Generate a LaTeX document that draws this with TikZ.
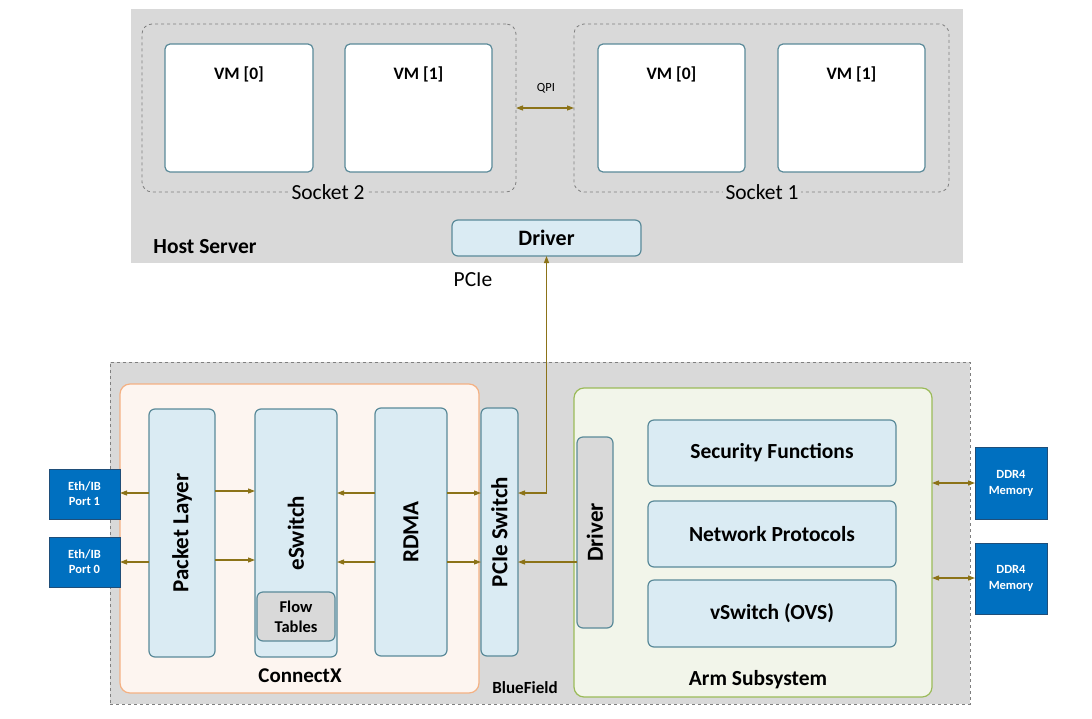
\documentclass[tikz,border=0pt]{standalone}
\usepackage{fontspec}
\setmainfont{Carlito}
\usetikzlibrary{arrows.meta}
\definecolor{hostgray}{HTML}{D9D9D9}
\definecolor{dashgray}{HTML}{7F7F7F}
\definecolor{arrowc}{HTML}{8C7318}
\definecolor{lblue}{HTML}{DAEBF3}
\definecolor{tealb}{HTML}{5A8A99}
\definecolor{cxfill}{HTML}{FDF5F0}
\definecolor{cxborder}{HTML}{F4B183}
\definecolor{armfill}{HTML}{F2F5EA}
\definecolor{armborder}{HTML}{9BBB59}
\definecolor{portblue}{HTML}{0070C0}
\definecolor{portborder}{HTML}{1F4E79}
\tikzset{
  box/.style={rectangle, inner sep=0pt, outer sep=0pt},
  vmbox/.style={box, fill=white, draw=tealb, line width=1.2pt, rounded corners=5pt, minimum width=148pt, minimum height=128pt},
  socketbox/.style={box, draw=dashgray, dashed, line width=0.8pt, rounded corners=10pt},
  bluebox/.style={box, fill=lblue, draw=tealb, line width=1.2pt, rounded corners=6pt},
  graybox/.style={box, fill=hostgray, draw=tealb, line width=1.2pt, rounded corners=6pt},
  portbox/.style={box, fill=portblue, draw=portborder, line width=1pt, text=white, font=\bfseries, align=center},
  arr/.style={draw=arrowc, line width=1.1pt, -{Triangle[length=7pt,width=5pt]}},
  darr/.style={draw=arrowc, line width=1.1pt, {Triangle[length=7pt,width=5pt]}-{Triangle[length=7pt,width=5pt]}},
  vlabel/.style={rotate=90, anchor=center},
  vmfont/.style={font=\fontsize{17.5}{21}\selectfont\bfseries},
  bigfont/.style={font=\fontsize{21.5}{25}\selectfont},
  bigbold/.style={font=\fontsize{21.5}{25}\selectfont\bfseries},
  inner/.style={font=\fontsize{23}{27}\selectfont\bfseries},
}
\begin{document}
\begin{tikzpicture}[x=1pt, y=-1pt]
\useasboundingbox (0,0) rectangle (1092,718);
% Host server
\node[box, fill=hostgray, minimum width=832pt, minimum height=254pt] (host) at (547,136) {};
\node[socketbox, minimum width=374pt, minimum height=168pt] (sock2) at (329,108) {};
\node[socketbox, minimum width=375pt, minimum height=168pt] (sock1) at (761.5,108) {};
\node[vmbox, label={[anchor=center, yshift=-30pt, vmfont]north:VM [0]}] (vm0l) at (239,108) {};
\node[vmbox, minimum width=147pt, label={[anchor=center, yshift=-30pt, vmfont]north:VM [1]}] (vm1l) at (418.5,108) {};
\node[vmbox, minimum width=147pt, label={[anchor=center, yshift=-30pt, vmfont]north:VM [0]}] (vm0r) at (671.5,108) {};
\node[vmbox, minimum width=147pt, label={[anchor=center, yshift=-30pt, vmfont]north:VM [1]}] (vm1r) at (851.5,108) {};
\node[fill=hostgray, inner sep=3pt, bigfont] (s2lab) at (328,192) {Socket 2};
\node[fill=hostgray, inner sep=3pt, bigfont] (s1lab) at (762,192) {Socket 1};
\node[font=\fontsize{12.5}{15}\selectfont] (qpi) at (546,88) {QPI};
\draw[darr] (sock2.east |- 0,108) -- (sock1.west |- 0,108);
\node[bigbold] (hostlab) at (205,247) {Host Server};
\node[bluebox, minimum width=189pt, minimum height=36pt, font=\fontsize{22}{26}\selectfont\bfseries] (drvtop) at (546.5,238) {Driver};
\node[bigfont] (pcielab) at (473,280) {PCIe};
% BlueField
\node[box, fill=hostgray, draw=dashgray, dashed, line width=0.8pt, minimum width=860pt, minimum height=342pt] (bf) at (540,533) {};
\node[box, fill=cxfill, draw=cxborder, line width=1.2pt, rounded corners=10pt, minimum width=359pt, minimum height=309pt] (cx) at (299.5,538.5) {};
\node[box, fill=armfill, draw=armborder, line width=1.2pt, rounded corners=10pt, minimum width=358pt, minimum height=309pt] (arm) at (753,542.5) {};
\node[bluebox, minimum width=66pt, minimum height=248pt, label={[vlabel, inner]center:Packet Layer}] (pl) at (182,533) {};
\node[bluebox, minimum width=82pt, minimum height=248pt, label={[vlabel, inner]center:eSwitch}] (esw) at (296,533) {};
\node[graybox, minimum width=78pt, minimum height=49pt, align=center, font=\fontsize{16.5}{20}\selectfont\bfseries] (ft) at (296,616.5) {Flow\\Tables};
\node[bluebox, minimum width=72pt, minimum height=248pt, label={[vlabel, inner]center:RDMA}] (rdma) at (411,532) {};
\node[bluebox, minimum width=37pt, minimum height=248pt, label={[vlabel, inner]center:PCIe Switch}] (psw) at (499.5,532) {};
\node[graybox, minimum width=36pt, minimum height=191pt, label={[vlabel, inner]center:Driver}] (drvarm) at (595,532.5) {};
\node[bluebox, minimum width=248pt, minimum height=66pt, font=\fontsize{21.5}{25}\selectfont\bfseries] (sec) at (772,453) {Security Functions};
\node[bluebox, minimum width=248pt, minimum height=66pt, font=\fontsize{21.5}{25}\selectfont\bfseries] (net) at (772,534) {Network Protocols};
\node[bluebox, minimum width=248pt, minimum height=67pt, font=\fontsize{21.5}{25}\selectfont\bfseries] (vsw) at (772,613.5) {vSwitch (OVS)};
\node[font=\fontsize{21}{25}\selectfont\bfseries] (cxlab) at (300,676) {ConnectX};
\node[font=\fontsize{17}{20}\selectfont\bfseries] (bflab) at (525,688) {BlueField};
\node[bigbold] (armlab) at (758,680) {Arm Subsystem};
% Ports and memory
\node[portbox, minimum width=71pt, minimum height=50pt, font=\fontsize{12.5}{15}\selectfont\bfseries] (port1) at (84.5,494) {Eth/IB\\Port 1};
\node[portbox, minimum width=71pt, minimum height=50pt, font=\fontsize{12.5}{15}\selectfont\bfseries] (port0) at (84.5,562) {Eth/IB\\Port 0};
\node[portbox, minimum width=72pt, minimum height=72pt, font=\fontsize{12.5}{16}\selectfont\bfseries] (ddr1) at (1011,483) {DDR4\\Memory};
\node[portbox, minimum width=72pt, minimum height=71pt, font=\fontsize{12.5}{16}\selectfont\bfseries] (ddr2) at (1011,578.5) {DDR4\\Memory};
% Connectors
\draw[arr] (pl.west |- 0,493) -- (port1.east |- 0,493);
\draw[arr] (pl.west |- 0,562) -- (port0.east |- 0,562);
\draw[arr] (pl.east |- 0,491) -- (esw.west |- 0,491);
\draw[arr] (pl.east |- 0,560) -- (esw.west |- 0,560);
\draw[arr] (rdma.west |- 0,493) -- (esw.east |- 0,493);
\draw[arr] (rdma.west |- 0,562) -- (esw.east |- 0,562);
\draw[arr] (rdma.east |- 0,493) -- (psw.west |- 0,493);
\draw[arr] (rdma.east |- 0,562) -- (psw.west |- 0,562);
\draw[arr] (drvarm.west |- 0,562) -- (psw.east |- 0,562);
\draw[darr] (drvtop.south) -- (drvtop.south |- 0,493) -- (psw.east |- 0,493);
\draw[darr] (arm.east |- 0,483) -- (ddr1.west |- 0,483);
\draw[darr] (arm.east |- 0,578) -- (ddr2.west |- 0,578);
\end{tikzpicture}
\end{document}
